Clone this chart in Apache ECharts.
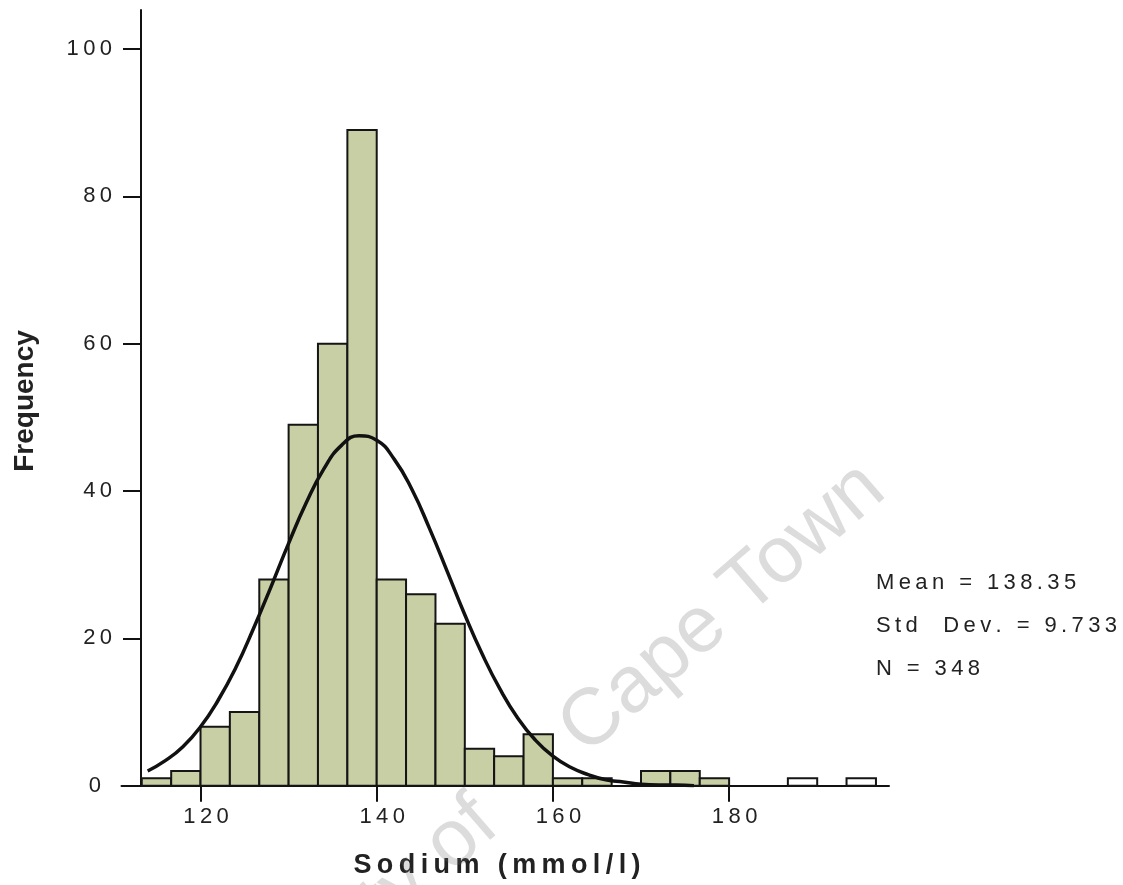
<!DOCTYPE html>
<html><head><meta charset="utf-8">
<script src="https://cdn.jsdelivr.net/npm/echarts@6/dist/echarts.min.js"></script>
<style>html,body{margin:0;padding:0;background:#fff}#c{width:1123px;height:885px}</style>
</head><body><div id="c"></div>
<script>
// ---- data ----
const binLow  = [113.33,116.67,120,123.33,126.67,130,133.33,136.67,140,143.33,146.67,150,153.33,156.67,160,163.33,166.67,170,173.33,176.67,180,183.33,186.67,190,193.33];
const binHigh = [116.67,120,123.33,126.67,130,133.33,136.67,140,143.33,146.67,150,153.33,156.67,160,163.33,166.67,170,173.33,176.67,180,183.33,186.67,190,193.33,196.67];
const freq    = [1,2,8,10,28,49,60,89,28,26,22,5,4,7,1,1,0,2,2,1,0,0,1,0,1];
const curveX  = [114,116,118,120,122,124,126,128,130,132,134,136,138,140,142,144,146,148,150,152,154,156,158,160,162,164,166,168,170,172,174,176];
const curveY  = [2.0,3.4,5.3,8.0,11.6,16.0,21.3,27.0,32.9,38.4,43.0,46.2,47.5,46.9,44.3,40.2,34.9,29.1,23.2,17.8,13.1,9.2,6.2,4.0,2.5,1.5,0.8,0.5,0.2,0.1,0.1,0.0];
const xTicks  = [120,140,160,180];
const yTicks  = [0,20,40,60,80,100];
const statsLines = ['Mean = 138.35','Std  Dev. = 9.733','N = 348'];
const xTitle = 'Sodium (mmol/l)';
const yTitle = 'Frequency';
const watermarkA = 'University of';
const watermarkB = 'Cape Town';

// ---- chart ----
const FONT = '"Liberation Sans", Arial, sans-serif';
function spaced(s, sep){ return String(s).split('').join(sep); }

const barData = binLow.map((lo,i)=>[lo, binHigh[i], freq[i]]);
const lineData = curveX.map((x,i)=>[x, curveY[i]]);

const WM_ROT = 0.714;
const WM_DIR = [Math.cos(WM_ROT), -Math.sin(WM_ROT)];

const chart = echarts.init(document.getElementById('c'), null, {renderer:'canvas'});
chart.setOption({
  backgroundColor:'#ffffff',
  animation:false,
  grid:{left:121.5, right:234, top:10, bottom:99.3, containLabel:false},
  xAxis:{
    type:'value', min:111.03, max:198.15,
    axisLine:{show:true, onZero:false, lineStyle:{color:'#111', width:2}},
    axisTick:{show:true, customValues:xTicks, length:16, lineStyle:{color:'#111', width:2}},
    axisLabel:{show:true, customValues:xTicks, margin:20, fontSize:22, fontFamily:FONT, color:'#222',
      padding:[0,0,0,11], formatter:v=>spaced(v,'\u2009')},
    splitLine:{show:false}
  },
  yAxis:{
    type:'value', min:0, max:105.3, offset:-19.5,
    axisLine:{show:true, onZero:false, lineStyle:{color:'#111', width:2}},
    axisTick:{show:true, customValues:yTicks, length:18, lineStyle:{color:'#111', width:2}},
    axisLabel:{show:true, customValues:yTicks, margin:29, fontSize:22, fontFamily:FONT, color:'#222',
      formatter:v=> v === 0 ? '0\u2002' : spaced(v,'\u2009')},
    splitLine:{show:false}
  },
  series:[
    {
      type:'custom', z:2,
      data:barData,
      encode:{x:[0,1], y:2},
      renderItem:function(params, api){
        const lo = api.value(0), hi = api.value(1), f = api.value(2);
        if (!f) return null;
        const p0 = api.coord([lo, f]);
        const p1 = api.coord([hi, 0]);
        return {
          type:'rect',
          shape:{x:p0[0], y:p0[1], width:p1[0]-p0[0], height:p1[1]-p0[1]},
          style:{fill: lo >= 180 ? '#ffffff' : '#c9cfa4', stroke:'#151515', lineWidth:2}
        };
      }
    },
    {
      type:'line', z:5,
      data:lineData, smooth:true, symbol:'none',
      lineStyle:{color:'#111', width:3.5}
    }
  ],
  graphic:[
    {type:'text', z:3, x:874, y:478, rotation:WM_ROT,
      style:{text:watermarkB, font:'80px '+FONT, fill:'rgba(110,110,110,0.24)', textAlign:'right', textVerticalAlign:'middle'}},
    {type:'text', z:3, x:874 - 512*WM_DIR[0], y:478 - 512*WM_DIR[1], rotation:WM_ROT,
      style:{text:watermarkA, font:'80px '+FONT, fill:'rgba(110,110,110,0.24)', textAlign:'right', textVerticalAlign:'middle'}},
    {type:'text', x:25, y:401, rotation:Math.PI/2,
      style:{text:yTitle, font:'bold 28px '+FONT, fill:'#222', textAlign:'center', textVerticalAlign:'middle'}},
    {type:'text', x:497, y:866,
      style:{text:spaced(xTitle,'\u2009'), font:'bold 27px '+FONT, fill:'#222', textAlign:'center', textVerticalAlign:'middle'}},
    ...statsLines.map((t,i)=>({type:'text', x:876, y:583+i*43,
      style:{text:spaced(t,'\u2009'), font:'22px '+FONT, fill:'#222', textAlign:'left', textVerticalAlign:'middle'}}))
  ]
});
</script>
</body></html>
